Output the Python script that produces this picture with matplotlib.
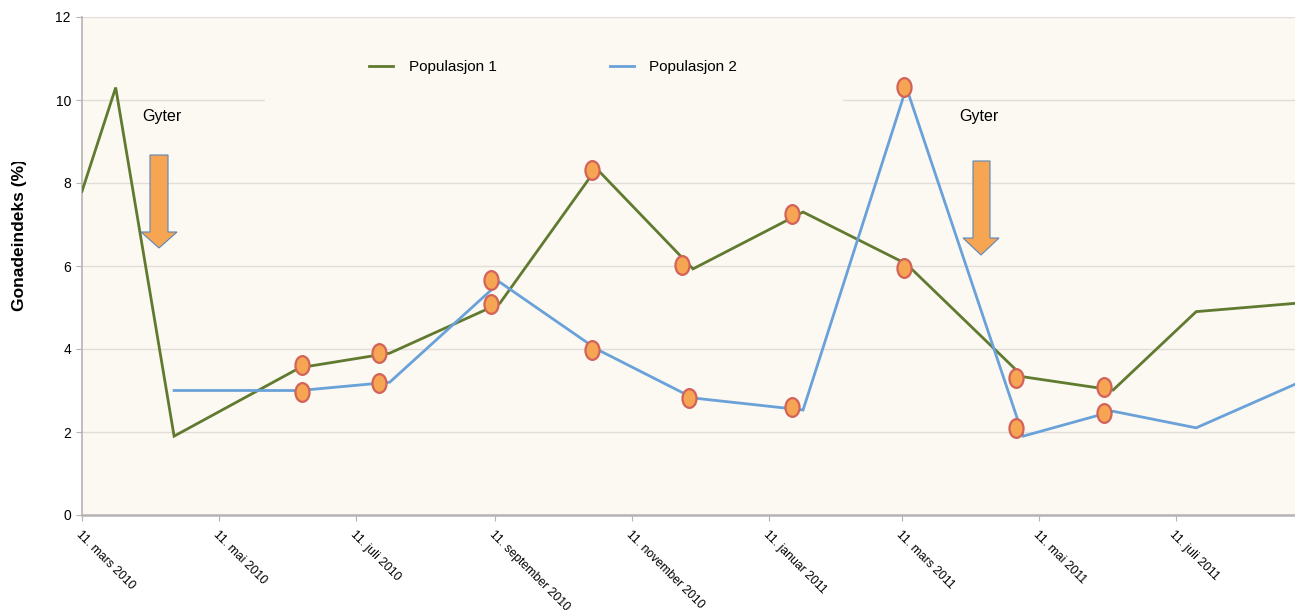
import numpy as np
import matplotlib
matplotlib.use("Agg")
import matplotlib.pyplot as plt
from matplotlib.patches import Polygon, Rectangle
from matplotlib.path import Path
import datetime as dt

plt.rcParams['font.family'] = ['Liberation Sans', 'DejaVu Sans']

# Data
pop1_dates = ["2010-03-11", "2010-03-26", "2010-04-21", "2010-06-16", "2010-07-26",
              "2010-09-13", "2010-10-26", "2010-12-08", "2011-01-26", "2011-03-13",
              "2011-05-04", "2011-06-13", "2011-07-20", "2011-09-02"]
pop1_values = [7.8, 10.3, 1.9, 3.55, 3.9, 5.1, 8.35, 5.93, 7.3, 6.05, 3.33, 3.01, 4.9, 5.1]

pop2_dates = ["2010-04-21", "2010-06-16", "2010-07-26", "2010-09-13", "2010-10-26",
              "2010-12-08", "2011-01-26", "2011-03-13", "2011-05-04", "2011-06-13",
              "2011-07-20", "2011-09-02"]
pop2_values = [3.0, 3.0, 3.2, 5.61, 4.0, 2.82, 2.53, 10.3, 1.9, 2.5, 2.1, 3.15]

# orange markers (separate series, slightly offset from the line vertices)
mark_dates = ["2010-06-17", "2010-06-17", "2010-07-21", "2010-07-21", "2010-09-09",
              "2010-09-09", "2010-10-24", "2010-10-24", "2010-12-03", "2010-12-06",
              "2011-01-21", "2011-01-21", "2011-03-12", "2011-03-12", "2011-05-01",
              "2011-05-01", "2011-06-09", "2011-06-09"]
mark_values = [3.61, 2.96, 3.90, 3.18, 5.66, 5.08, 8.31, 3.98, 6.02, 2.82,
               7.25, 2.60, 10.31, 5.95, 3.30, 2.10, 3.08, 2.46]

tick_dates = ["2010-03-11", "2010-05-11", "2010-07-11", "2010-09-11", "2010-11-11",
              "2011-01-11", "2011-03-11", "2011-05-11", "2011-07-11"]
tick_labels = ["11. mars 2010", "11. mai 2010", "11. juli 2010", "11. september 2010",
               "11. november 2010", "11. januar 2011", "11. mars 2011", "11. mai 2011",
               "11. juli 2011"]

def to_dates(lst):
    return [dt.datetime.strptime(s, "%Y-%m-%d") for s in lst]

W, H = 1295, 613
fig = plt.figure(figsize=(W / 100, H / 100), dpi=100)
fig.patch.set_facecolor("white")

ax_left, ax_right, ax_top, ax_bottom = 82, 1295, 17, 515
ax = fig.add_axes([ax_left / W, 1 - ax_bottom / H, (ax_right - ax_left) / W,
                   (ax_bottom - ax_top) / H])
ax.set_facecolor("#fcf8f2")

def px(x, y):
    # pixel position -> axes fraction
    return ((x - ax_left) / (ax_right - ax_left), (ax_bottom - y) / (ax_bottom - ax_top))

green = "#607a2f"
blue = "#69a1d9"

ax.plot(to_dates(pop1_dates), pop1_values, color=green, lw=2.0, label="Populasjon 1",
        zorder=3, solid_joinstyle="miter")
ax.plot(to_dates(pop2_dates), pop2_values, color=blue, lw=2.0, label="Populasjon 2",
        zorder=3, solid_joinstyle="miter")

# elliptic marker, taller than wide
circ = Path.unit_circle()
ellipse = Path(circ.vertices * np.array([0.75, 1.0]), circ.codes)
ax.plot(to_dates(mark_dates), mark_values, ls="none", marker=ellipse, markersize=13.5,
        markerfacecolor="#f6a653", markeredgecolor="#d2625a", markeredgewidth=1.6, zorder=4)

ax.set_ylim(0, 12)
ax.set_yticks([0, 2, 4, 6, 8, 10, 12])
ax.set_xlim(dt.datetime(2010, 3, 11), dt.datetime(2011, 9, 2))
ax.set_xticks(to_dates(tick_dates))
ax.set_xticklabels(tick_labels, rotation=-45, ha="left", va="top",
                   rotation_mode="anchor", fontsize=8.8)
ax.tick_params(axis="x", length=4, pad=6, color="#b4b4b4")
ax.tick_params(axis="y", length=4, labelsize=10, pad=4, color="#b4b4b4")

ax.set_axisbelow(True)
ax.grid(axis="y", color="#e2ddd8", lw=1.0)
for s in ["top", "right"]:
    ax.spines[s].set_visible(False)
ax.spines["left"].set_color("#b4b4b4")
ax.spines["left"].set_linewidth(1.2)
ax.spines["bottom"].set_color("#b4b4b4")
ax.spines["bottom"].set_linewidth(1.8)

# box behind legend hides part of the top gridline
x0, y0 = px(265, 105)
x1, y1 = px(843, 30)
ax.add_patch(Rectangle((x0, y0), x1 - x0, y1 - y0, transform=ax.transAxes,
                       facecolor="#fcf8f2", edgecolor="none", zorder=1))

leg = ax.legend(loc="center left", bbox_to_anchor=px(369, 67), ncol=2, frameon=False,
                fontsize=11, handlelength=1.6, handletextpad=1.0, columnspacing=7.4,
                borderpad=0, borderaxespad=0)

# spawning arrows and labels
def arrow(shaft_l, shaft_r, top, shoulder, head_l, head_r, tip):
    cx = (head_l + head_r) / 2
    pts = [px(shaft_l, top), px(shaft_r, top), px(shaft_r, shoulder), px(head_r, shoulder),
           px(cx, tip), px(head_l, shoulder), px(shaft_l, shoulder)]
    ax.add_patch(Polygon(pts, closed=True, transform=ax.transAxes, facecolor="#f6a653",
                         edgecolor="#5b86b8", lw=0.8, zorder=5))

arrow(150, 168, 155, 232, 141, 177, 248)
arrow(973, 990, 161, 238, 963, 999, 255)

for gx in [162, 979]:
    ax.text(*px(gx, 116), "Gyter", transform=ax.transAxes, fontsize=11.5,
            ha="center", va="center", zorder=5)

# y label, cut off at the top like in the original
fig.text(20 / W, 1 - 311 / H, "Gonadeindeks (%)", rotation=90, ha="center",
         va="bottom", fontsize=12.5, fontweight="bold", zorder=3)
fig.patches.append(Rectangle((0, 1 - 162 / H), 40 / W, 162 / H, transform=fig.transFigure,
                             facecolor="white", edgecolor="none", zorder=10))

fig.savefig("out.png", dpi=100)
